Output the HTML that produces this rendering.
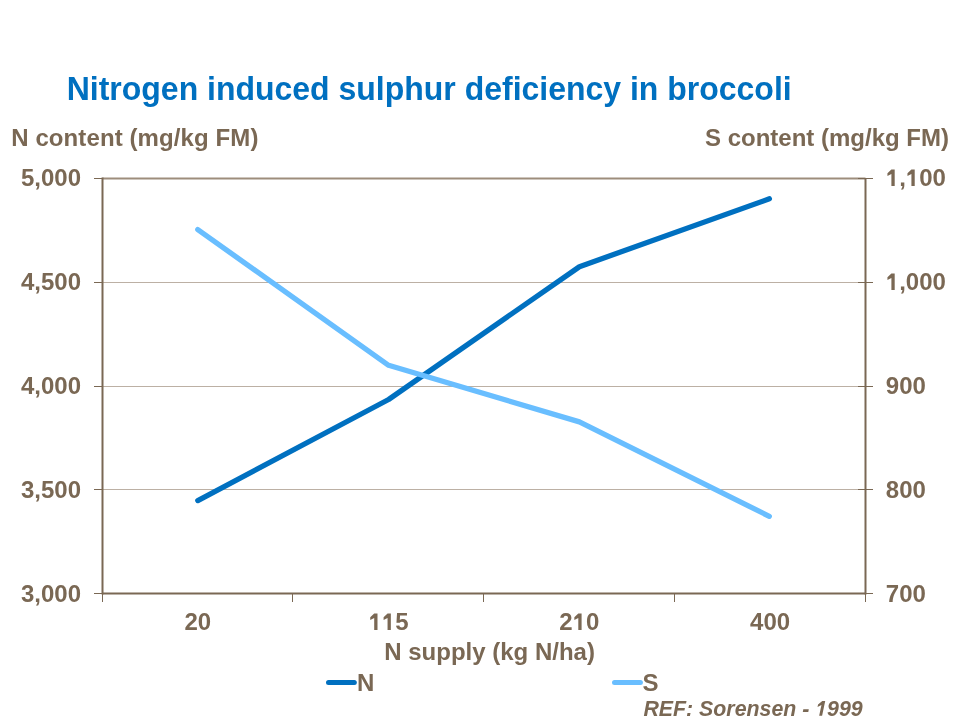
<!DOCTYPE html>
<html><head><meta charset="utf-8"><style>
html,body{margin:0;padding:0;background:#fff;width:960px;height:720px;overflow:hidden}
svg{display:block;will-change:transform;font-family:"Liberation Sans",sans-serif;font-weight:bold;font-kerning:none}
</style></head><body>
<svg width="960" height="720" viewBox="0 0 960 720">
<g transform="translate(0 100) scale(1 1.04) translate(0 -100)">
<text x="66.70" y="100.00" font-size="32" fill="#0070c0">Nitrogen induced sulphur deficiency in broccoli</text>
</g>
<text letter-spacing="0.1" x="11.20" y="146.00" font-size="24" fill="#7a6854">N content (mg/kg FM)</text>
<text x="705.02" y="146.00" font-size="24" fill="#7a6854">S content (mg/kg FM)</text>
<rect x="102.5" y="177.5" width="763.0" height="2" fill="#9d8d7c"/>
<rect x="102.5" y="282" width="763.0" height="1" fill="#bcb0a4"/>
<rect x="102.5" y="386" width="763.0" height="1" fill="#bcb0a4"/>
<rect x="102.5" y="489" width="763.0" height="1" fill="#bcb0a4"/>
<rect x="94" y="178.0" width="8.5" height="1" fill="#7a6854"/>
<rect x="858" y="178.0" width="15" height="1" fill="#7a6854"/>
<text x="20.94" y="186.00" font-size="24" fill="#7a6854">5,000</text>
<text x="885.80" y="186.00" font-size="24" fill="#7a6854"> , 00</text>
<path d="M478 0H759V1409H478L140 1090V850L478 1030Z" fill="#7a6854" transform="translate(885.80 186.00) scale(0.011719 -0.011719)"/>
<path d="M478 0H759V1409H478L140 1090V850L478 1030Z" fill="#7a6854" transform="translate(905.82 186.00) scale(0.011719 -0.011719)"/>
<rect x="94" y="282.0" width="8.5" height="1" fill="#7a6854"/>
<rect x="858" y="282.0" width="15" height="1" fill="#7a6854"/>
<text x="20.94" y="290.00" font-size="24" fill="#7a6854">4,500</text>
<text x="885.80" y="290.00" font-size="24" fill="#7a6854"> ,000</text>
<path d="M478 0H759V1409H478L140 1090V850L478 1030Z" fill="#7a6854" transform="translate(885.80 290.00) scale(0.011719 -0.011719)"/>
<rect x="94" y="386.0" width="8.5" height="1" fill="#7a6854"/>
<rect x="858" y="386.0" width="15" height="1" fill="#7a6854"/>
<text x="20.94" y="394.00" font-size="24" fill="#7a6854">4,000</text>
<text x="885.80" y="394.00" font-size="24" fill="#7a6854">900</text>
<rect x="94" y="489.0" width="8.5" height="1" fill="#7a6854"/>
<rect x="858" y="489.0" width="15" height="1" fill="#7a6854"/>
<text x="20.94" y="498.00" font-size="24" fill="#7a6854">3,500</text>
<text x="885.80" y="498.00" font-size="24" fill="#7a6854">800</text>
<rect x="94" y="593.0" width="8.5" height="1" fill="#7a6854"/>
<rect x="858" y="593.0" width="15" height="1" fill="#7a6854"/>
<text x="20.94" y="602.00" font-size="24" fill="#7a6854">3,000</text>
<text x="885.80" y="602.00" font-size="24" fill="#7a6854">700</text>
<rect x="101.5" y="177.5" width="2" height="417.0" fill="#7a6854"/>
<rect x="864.5" y="178" width="2" height="416.5" fill="#7a6854"/>
<rect x="102.5" y="592.5" width="763.0" height="2" fill="#7a6854"/>
<rect x="102" y="593.5" width="1" height="8.5" fill="#7a6854"/>
<rect x="292" y="593.5" width="1" height="8.5" fill="#7a6854"/>
<rect x="483" y="593.5" width="1" height="8.5" fill="#7a6854"/>
<rect x="674" y="593.5" width="1" height="8.5" fill="#7a6854"/>
<rect x="865" y="593.5" width="1" height="8.5" fill="#7a6854"/>
<text x="184.53" y="630.00" font-size="24" fill="#7a6854">20</text>
<text x="368.60" y="630.00" font-size="24" fill="#7a6854">  5</text>
<path d="M478 0H759V1409H478L140 1090V850L478 1030Z" fill="#7a6854" transform="translate(368.60 630.00) scale(0.011719 -0.011719)"/>
<path d="M478 0H759V1409H478L140 1090V850L478 1030Z" fill="#7a6854" transform="translate(381.95 630.00) scale(0.011719 -0.011719)"/>
<text x="559.35" y="630.00" font-size="24" fill="#7a6854">2 0</text>
<path d="M478 0H759V1409H478L140 1090V850L478 1030Z" fill="#7a6854" transform="translate(572.70 630.00) scale(0.011719 -0.011719)"/>
<text x="750.10" y="630.00" font-size="24" fill="#7a6854">400</text>
<text x="384.26" y="660.00" font-size="24" fill="#7a6854">N supply (kg N/ha)</text>
<polyline points="197.8,500.6 388.6,399.5 579.4,266.7 769.4,198.8" fill="none" stroke="#0070c0" stroke-width="5.3" stroke-linecap="round" stroke-linejoin="round"/>
<polyline points="197.8,229.6 388.6,365.3 579.4,421.9 769.3,516.3" fill="none" stroke="#69beff" stroke-width="5.3" stroke-linecap="round" stroke-linejoin="round"/>
<line x1="328.5" y1="682.4" x2="354.3" y2="682.4" stroke="#0070c0" stroke-width="5" stroke-linecap="round"/>
<text x="357.00" y="690.70" font-size="24" fill="#7a6854">N</text>
<line x1="614.5" y1="682.4" x2="640.4" y2="682.4" stroke="#69beff" stroke-width="5" stroke-linecap="round"/>
<text x="642.50" y="690.70" font-size="24" fill="#7a6854">S</text>
<text x="643.40" y="715.75" font-size="21.33" fill="#7a6854" font-style="italic">REF: Sorensen -  999</text>
<path d="M376 0H657L957 1409H676L270 1090L219 850L595 1030Z" fill="#7a6854" transform="translate(815.25 715.75) scale(0.010415 -0.010415)"/>
</svg>
</body></html>
